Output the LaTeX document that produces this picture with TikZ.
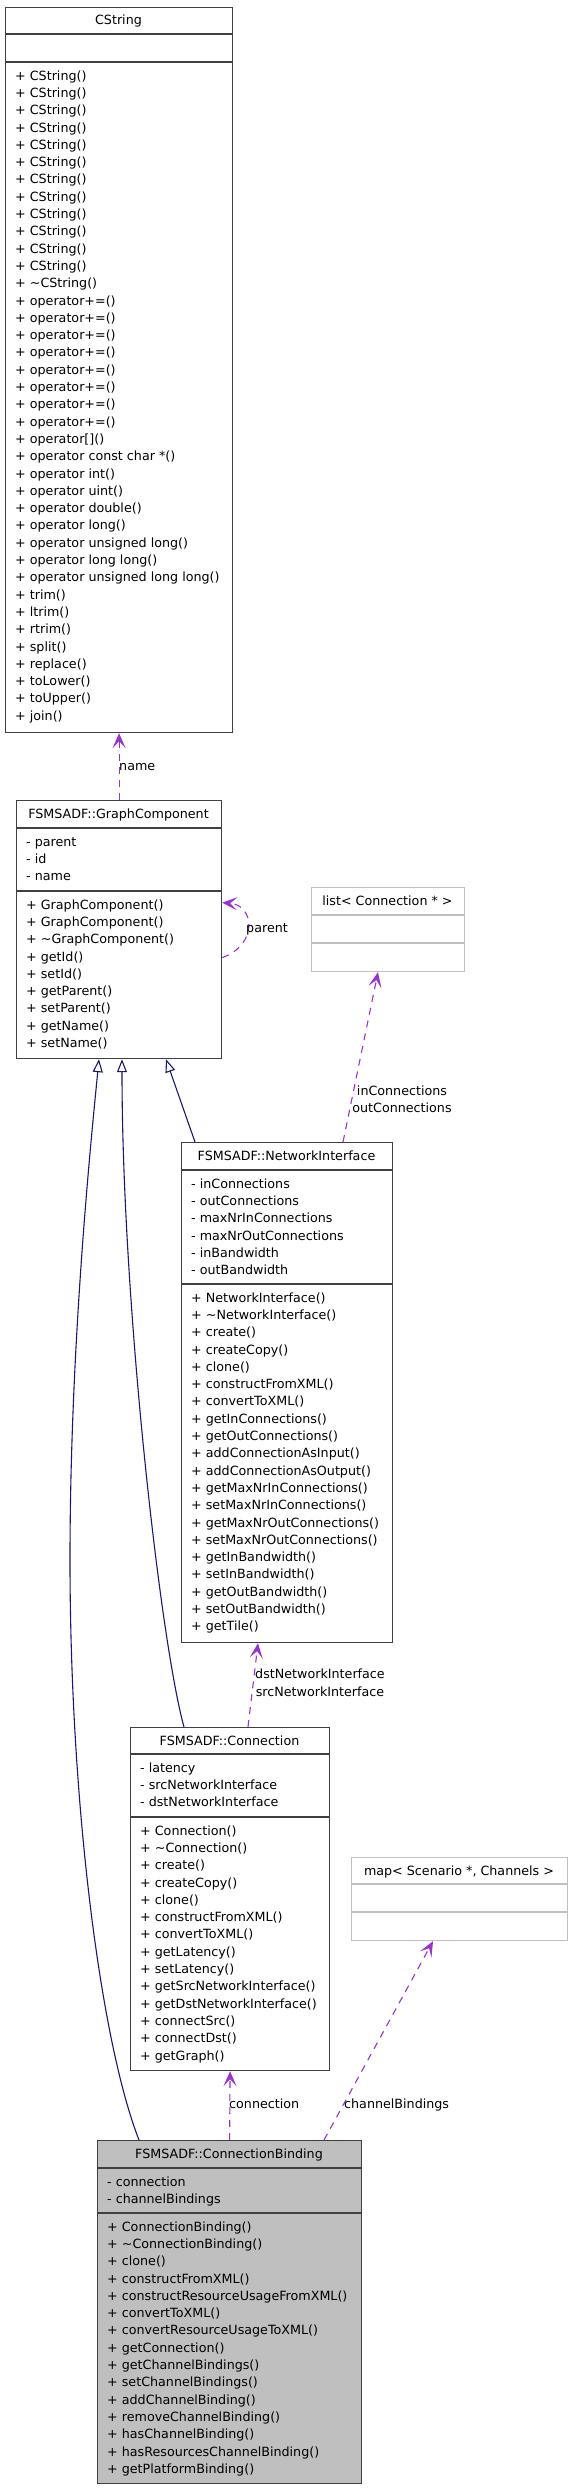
\documentclass[tikz,border=0pt]{standalone}
\usepackage{fontspec}
\setmainfont{DejaVu Sans}
\usetikzlibrary{arrows.meta}
\definecolor{umlpurple}{HTML}{9A32CD}
\definecolor{umlnavy}{HTML}{191970}
\definecolor{umlfill}{HTML}{BFBFBF}
\definecolor{umlborder}{HTML}{404040}
\definecolor{umlgrayborder}{HTML}{C0C0C0}
\tikzset{
  umltext/.style={inner sep=0pt, font=\fontsize{12.7}{15}\selectfont, text=black},
  umlbox/.style={draw=umlborder, line width=1.2pt, fill=white, inner sep=0pt, anchor=north west},
  umlgraybox/.style={draw=umlgrayborder, line width=1.2pt, fill=white, inner sep=0pt, anchor=north west},
  umlsep/.style={draw=umlborder, line width=1.2pt},
  umlgraysep/.style={draw=umlgrayborder, line width=1.2pt},
  usage/.style={draw=umlpurple, line width=1.1pt, dash pattern=on 7pt off 6pt,
    -{Stealth[length=15pt,width=13pt,inset=7pt]}},
  inherit/.style={draw=umlnavy, line width=1.1pt,
    -{Triangle[open,length=13pt,width=10pt,fill=white]}},
  lbl/.style={umltext}
}
\newcommand\umllines[4]{%
  \foreach \txt [count=\k] in {#4} {%
    \node[umltext, anchor=base west] (#1\k) at (#2+10, #3+17.3*\k+0.85) {\txt};
  }%
}
\begin{document}
\begin{tikzpicture}[x=1pt,y=-1pt]
\useasboundingbox (0,0) rectangle (571,2491);

% ---------- CString ----------
\node[umlbox, minimum width=227pt, minimum height=725pt] (cs) at (5,7) {};
\draw[umlsep] (5,34) -- (232,34);
\draw[umlsep] (5,62) -- (232,62);
\node[umltext, anchor=base] (cs-t) at (118.5,25) {CString};
\umllines{csm}{5}{62}{+ CString(), + CString(), + CString(), + CString(), + CString(), + CString(), + CString(), + CString(), + CString(), + CString(), + CString(), + CString(), + \textasciitilde{}CString(), + operator+=(), + operator+=(), + operator+=(), + operator+=(), + operator+=(), + operator+=(), + operator+=(), + operator+=(), + operator[](), + operator const char *(), + operator int(), + operator uint(), + operator double(), + operator long(), + operator unsigned long(), + operator long long(), + operator unsigned long long(), + trim(), + ltrim(), + rtrim(), + split(), + replace(), + toLower(), + toUpper(), + join()}

% ---------- GraphComponent ----------
\node[umlbox, minimum width=205pt, minimum height=258pt] (gc) at (16,800) {};
\draw[umlsep] (16,828) -- (221,828);
\draw[umlsep] (16,891) -- (221,891);
\node[umltext, anchor=base] (gc-t) at (118.5,818) {FSMSADF::GraphComponent};
\umllines{gca}{16}{828}{- parent, - id, - name}
\umllines{gcm}{16}{891}{+ GraphComponent(), + GraphComponent(), + \textasciitilde{}GraphComponent(), + getId(), + setId(), + getParent(), + setParent(), + getName(), + setName()}

% ---------- list< Connection * > ----------
\node[umlgraybox, minimum width=153pt, minimum height=84pt] (lst) at (311,887) {};
\draw[umlgraysep] (311,915) -- (464,915);
\draw[umlgraysep] (311,943) -- (464,943);
\node[umltext, anchor=base] (lst-t) at (387.5,905) {list< Connection * >};

% ---------- NetworkInterface ----------
\node[umlbox, minimum width=211pt, minimum height=500pt] (ni) at (181,1142) {};
\draw[umlsep] (181,1170) -- (392,1170);
\draw[umlsep] (181,1284) -- (392,1284);
\node[umltext, anchor=base] (ni-t) at (286.5,1160) {FSMSADF::NetworkInterface};
\umllines{nia}{181}{1170}{- inConnections, - outConnections, - maxNrInConnections, - maxNrOutConnections, - inBandwidth, - outBandwidth}
\umllines{nim}{181}{1284}{+ NetworkInterface(), + \textasciitilde{}NetworkInterface(), + create(), + createCopy(), + clone(), + constructFromXML(), + convertToXML(), + getInConnections(), + getOutConnections(), + addConnectionAsInput(), + addConnectionAsOutput(), + getMaxNrInConnections(), + setMaxNrInConnections(), + getMaxNrOutConnections(), + setMaxNrOutConnections(), + getInBandwidth(), + setInBandwidth(), + getOutBandwidth(), + setOutBandwidth(), + getTile()}

% ---------- Connection ----------
\node[umlbox, minimum width=199pt, minimum height=343pt] (con) at (130,1727) {};
\draw[umlsep] (130,1754) -- (329,1754);
\draw[umlsep] (130,1817) -- (329,1817);
\node[umltext, anchor=base] (con-t) at (229.5,1745) {FSMSADF::Connection};
\umllines{cona}{130}{1754}{- latency, - srcNetworkInterface, - dstNetworkInterface}
\umllines{conm}{130}{1817}{+ Connection(), + \textasciitilde{}Connection(), + create(), + createCopy(), + clone(), + constructFromXML(), + convertToXML(), + getLatency(), + setLatency(), + getSrcNetworkInterface(), + getDstNetworkInterface(), + connectSrc(), + connectDst(), + getGraph()}

% ---------- map< Scenario *, Channels > ----------
\node[umlgraybox, minimum width=216pt, minimum height=83pt] (map) at (351,1857) {};
\draw[umlgraysep] (351,1884) -- (567,1884);
\draw[umlgraysep] (351,1912) -- (567,1912);
\node[umltext, anchor=base] (map-t) at (459,1875) {map< Scenario *, Channels >};

% ---------- ConnectionBinding ----------
\node[umlbox, fill=umlfill, minimum width=264pt, minimum height=343pt] (cb) at (97,2140) {};
\draw[umlsep] (97,2168) -- (361,2168);
\draw[umlsep] (97,2213) -- (361,2213);
\node[umltext, anchor=base] (cb-t) at (229,2158) {FSMSADF::ConnectionBinding};
\umllines{cba}{97}{2168}{- connection, - channelBindings}
\umllines{cbm}{97}{2213}{+ ConnectionBinding(), + \textasciitilde{}ConnectionBinding(), + clone(), + constructFromXML(), + constructResourceUsageFromXML(), + convertToXML(), + convertResourceUsageToXML(), + getConnection(), + getChannelBindings(), + setChannelBindings(), + addChannelBinding(), + removeChannelBinding(), + hasChannelBinding(), + hasResourcesChannelBinding(), + getPlatformBinding()}

% ---------- usage connectors ----------
\draw[usage] (gc.north) -- (cs.south);
\node[lbl, anchor=base west] (l-name) at (119,770) {name};

\draw[usage] ([yshift=-28pt]gc.east) .. controls (258,945) and (255,905) .. ([yshift=27pt]gc.east);
\node[lbl, anchor=base west] (l-parent) at (246,932) {parent};

\draw[usage] ([xshift=162pt]ni.north west) -- ([xshift=67pt]lst.south west);
\node[lbl, anchor=base] (l-in) at (402,1095) {inConnections};
\node[lbl, anchor=base] (l-out) at (402,1112) {outConnections};

\draw[usage] ([xshift=118pt]con.north west) -- ([xshift=77pt]ni.south west);
\node[lbl, anchor=base] (l-dst) at (320,1678) {dstNetworkInterface};
\node[lbl, anchor=base] (l-src) at (320,1696) {srcNetworkInterface};

\draw[usage] (cb.north) -- (con.south);
\node[lbl, anchor=base west] (l-conn) at (229,2108) {connection};

\draw[usage] ([xshift=227pt]cb.north west) -- ([xshift=82pt]map.south west);
\node[lbl, anchor=base west] (l-chb) at (344,2108) {channelBindings};

% ---------- inheritance ----------
\draw[inherit] ([xshift=14pt]ni.north west) -- ([xshift=150pt]gc.south west);
\draw[inherit] ([xshift=54pt]con.north west) .. controls (160,1640) and (122,1300) .. ([xshift=106pt]gc.south west);
\draw[inherit] ([xshift=42pt]cb.north west) .. controls (100,2040) and (70,1800) .. (70,1560)
  .. controls (70,1350) and (90,1150) .. ([xshift=83pt]gc.south west);
\end{tikzpicture}
\end{document}
